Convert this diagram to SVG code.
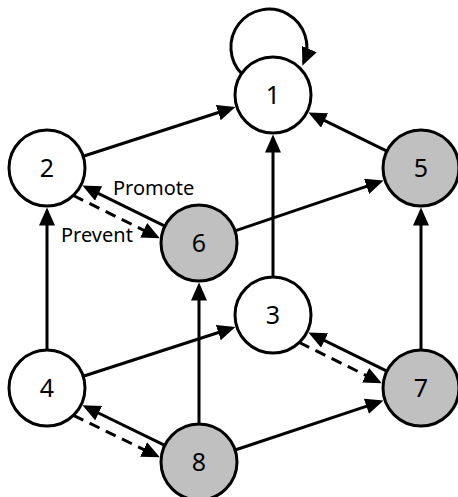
<svg xmlns="http://www.w3.org/2000/svg" width="458" height="497" viewBox="0 0 458 497">
  <defs>
    <marker id="arrow" markerUnits="userSpaceOnUse" markerWidth="18" markerHeight="16" refX="14" refY="8" orient="auto">
      <path d="M0,0 L18,8 L0,16 z" fill="#000"/>
    </marker>
    <style>
      .edge { stroke: #000; stroke-width: 3; fill: none; marker-end: url(#arrow); }
      .dash { stroke-dasharray: 11 7; }
      .node circle { stroke: #000; stroke-width: 3; fill: #fff; }
      .node.grey circle { fill: #c0c0c0; }
      .node text { font-family: "Noto Sans", "Open Sans", sans-serif; font-size: 25px; fill: #000; text-anchor: middle; }
      .label { font-family: "Noto Sans", "Open Sans", sans-serif; font-size: 20px; fill: #000; }
    </style>
  </defs>
  <rect width="458" height="497" fill="#fff"/>
  <g id="connectors">
    <path class="edge" d="M242,74 A38,38 0 1 1 303.9,62"/>
    <line class="edge" x1="83.2" y1="156.3" x2="231.6" y2="108.3"/>
    <line class="edge" x1="386.9" y1="151.2" x2="312.0" y2="114.3"/>
    <line class="edge" x1="273" y1="277" x2="273" y2="138.5"/>
    <line class="edge" x1="235.0" y1="230.8" x2="379.8" y2="181.9"/>
    <line class="edge" x1="47" y1="350" x2="47" y2="211.5"/>
    <line class="edge" x1="421" y1="350" x2="421" y2="211.5"/>
    <line class="edge" x1="199" y1="424" x2="199" y2="286.5"/>
    <line class="edge" x1="83.2" y1="376.3" x2="231.6" y2="328.3"/>
    <line class="edge" x1="235.1" y1="450.0" x2="379.7" y2="401.8"/>
    <line class="edge" x1="164.9" y1="226.2" x2="86.0" y2="187.3"/>
    <line class="edge dash" x1="73.3" y1="195.5" x2="156.2" y2="236.4"/>
    <line class="edge" x1="164.8" y1="445.4" x2="86.1" y2="407.0"/>
    <line class="edge dash" x1="73.4" y1="415.3" x2="156.2" y2="455.6"/>
    <line class="edge" x1="386.9" y1="371.2" x2="312.0" y2="334.3"/>
    <line class="edge dash" x1="299.3" y1="342.5" x2="378.2" y2="381.4"/>
    <text class="label" x="113" y="195">Promote</text>
    <text class="label" x="61" y="242">Prevent</text>
  </g>
  <g id="node1" class="node"><circle cx="273" cy="95" r="38"/><text x="273" y="104">1</text></g>
  <g id="node2" class="node"><circle cx="47" cy="168" r="38"/><text x="47" y="177">2</text></g>
  <g id="node3" class="node"><circle cx="273" cy="315" r="38"/><text x="273" y="324">3</text></g>
  <g id="node4" class="node"><circle cx="47" cy="388" r="38"/><text x="47" y="397">4</text></g>
  <g id="node5" class="node grey"><circle cx="421" cy="168" r="38"/><text x="421" y="177">5</text></g>
  <g id="node6" class="node grey"><circle cx="199" cy="243" r="38"/><text x="199" y="252">6</text></g>
  <g id="node7" class="node grey"><circle cx="421" cy="388" r="38"/><text x="421" y="397">7</text></g>
  <g id="node8" class="node grey"><circle cx="199" cy="462" r="38"/><text x="199" y="471">8</text></g>
</svg>
